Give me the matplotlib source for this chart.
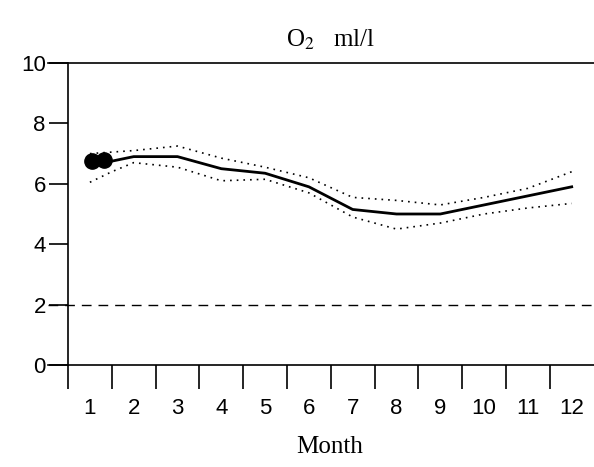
import matplotlib
matplotlib.use("Agg")
import matplotlib.pyplot as plt

months = [1.4, 2, 3, 4, 5, 6, 7, 8, 9, 10, 11, 12]
mean = [6.72, 6.9, 6.9, 6.5, 6.35, 5.9, 5.15, 5.0, 5.0, 5.3, 5.6, 5.9]
band_months = [1, 1.5, 2, 3, 4, 5, 6, 7, 8, 9, 10, 11, 12]
upper = [7.0, 7.05, 7.1, 7.25, 6.85, 6.55, 6.2, 5.55, 5.45, 5.3, 5.55, 5.85, 6.4]
lower = [6.05, 6.4, 6.7, 6.55, 6.1, 6.15, 5.7, 4.9, 4.5, 4.7, 5.0, 5.2, 5.35]
obs_x = [1.05, 1.32]
obs_y = [6.74, 6.78]
tick_labels = [str(i) for i in range(1, 13)]

fig = plt.figure(figsize=(5.94, 4.67), dpi=100)
ax = fig.add_axes([68/594, 1-365/467, (594-68)/594, (365-63)/467])
x0, x1 = 0.5, 0.5 + (594-68)/43.8
ax.set_xlim(x0, x1)
ax.set_ylim(0, 10)
for s in ["top", "right", "bottom"]:
    ax.spines[s].set_visible(False)
ax.spines["left"].set_linewidth(1.2)

ext = x0 - 20/43.8
ax.plot([ext, x1], [0, 0], color="black", lw=1.2, clip_on=False)
ax.plot([ext, x1], [10, 10], color="black", lw=1.2, clip_on=False)
ax.plot([ext, x1], [2, 2], color="black", lw=1.0, ls=(0, (7, 5)), clip_on=False)

ax.plot(band_months, upper, color="black", lw=1.2, ls=(0, (1, 3)))
ax.plot(band_months, lower, color="black", lw=1.2, ls=(0, (1, 3)))
ax.plot(months, mean, color="black", lw=2)
ax.plot(obs_x, obs_y, "o", color="black", ms=11, ls="none")

ax.set_yticks([0, 2, 4, 6, 8, 10])
ax.tick_params(axis="y", length=14, width=1.2, labelsize=16, pad=2)
ax.set_xticks([i + 0.5 for i in range(0, 12)])
ax.set_xticklabels([])
ax.tick_params(axis="x", which="major", length=17, width=1.2, direction="out")
ax.set_xticks(range(1, 13), minor=True)
ax.set_xticklabels(tick_labels, minor=True)
ax.tick_params(axis="x", which="minor", length=0, labelsize=16, pad=24)
for lab in ax.get_yticklabels() + ax.get_xticklabels(minor=True):
    lab.set_fontfamily("Liberation Sans")

fig.text(330/594, 1-40/467, r"O$_2$   ml/l", ha="center", va="center",
         fontsize=18, family="Liberation Serif", math_fontfamily="stix")
fig.text(330/594, 1-447/467, "Month", ha="center", va="center",
         fontsize=18, family="Liberation Serif")

fig.savefig("out.png", dpi=100)
